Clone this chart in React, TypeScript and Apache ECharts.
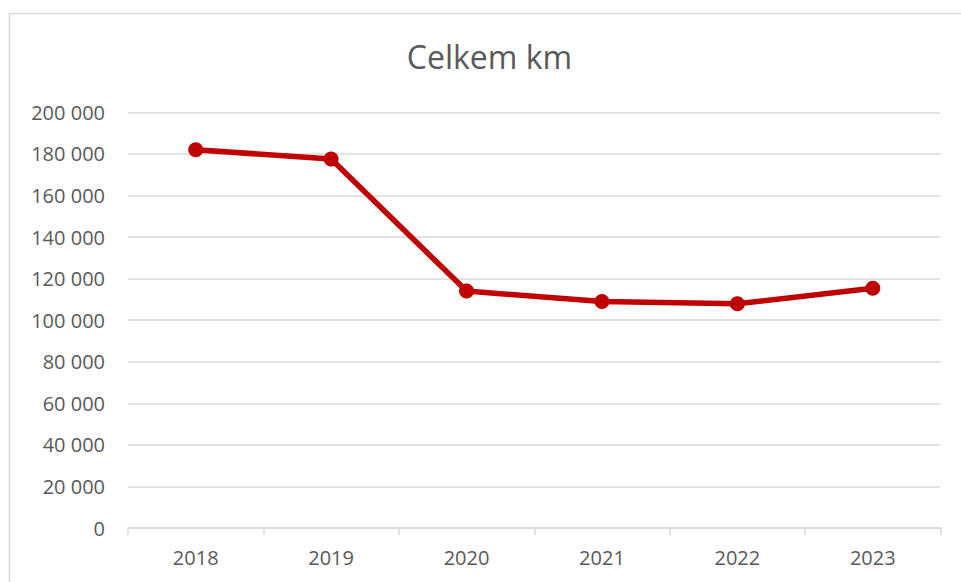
import React, { useEffect, useRef } from "react";
import * as echarts from "echarts";

const title = "Celkem km";
const years = ["2018", "2019", "2020", "2021", "2022", "2023"];
const kmValues = [182000, 177500, 114000, 109000, 107900, 115300];
const yMin = 0;
const yMax = 200000;
const yStep = 20000;

const fmt = (v: number) => {
  const s = Math.round(v).toString();
  return s.replace(/\B(?=(\d{3})+(?!\d))/g, " ");
};

export default function App() {
  const ref = useRef<HTMLDivElement>(null);
  useEffect(() => {
    if (!ref.current) return;
    const chart = echarts.init(ref.current, null, { renderer: "svg" });
    const textColor = "#595959";
    const font = "'Open Sans', sans-serif";
    chart.setOption({
      animation: false,
      backgroundColor: "#ffffff",
      title: {
        text: title,
        left: 484.5,
        top: 35,
        textAlign: "center",
        textStyle: {
          color: textColor,
          fontFamily: font,
          fontSize: 32,
          fontWeight: "normal",
        },
      },
      graphic: [
        {
          type: "rect",
          shape: { x: 9.5, y: 13.5, width: 1000, height: 620 },
          style: { fill: "none", stroke: "#d9d9d9", lineWidth: 1.5 },
          silent: true,
        },
      ],
      grid: { left: 128, right: 20.5, top: 112.3, bottom: 54, containLabel: false },
      xAxis: {
        type: "category",
        data: years,
        boundaryGap: true,
        axisLine: { show: true, lineStyle: { color: "#d9d9d9", width: 1.5 } },
        axisTick: { show: true, length: 7, lineStyle: { color: "#d9d9d9", width: 1.5 } },
        axisLabel: {
          color: textColor,
          fontFamily: font,
          fontSize: 20,
          margin: 19,
        },
        splitLine: { show: false },
      },
      yAxis: {
        type: "value",
        min: yMin,
        max: yMax,
        interval: yStep,
        axisLine: { show: false },
        axisTick: { show: false },
        axisLabel: {
          color: textColor,
          fontFamily: font,
          fontSize: 20,
          margin: 23,
          formatter: (v: number) => fmt(v),
        },
        splitLine: { show: true, lineStyle: { color: "#d9d9d9", width: 1.5 } },
      },
      series: [
        {
          type: "line",
          data: kmValues,
          symbol: "circle",
          symbolSize: 15,
          showSymbol: true,
          lineStyle: { color: "#c00000", width: 5.5 },
          itemStyle: { color: "#c00000" },
        },
      ],
    });
    return () => chart.dispose();
  }, []);
  return (
    <div
      ref={ref}
      style={{ position: "absolute", left: 0, top: 0, width: 961, height: 582 }}
    />
  );
}
